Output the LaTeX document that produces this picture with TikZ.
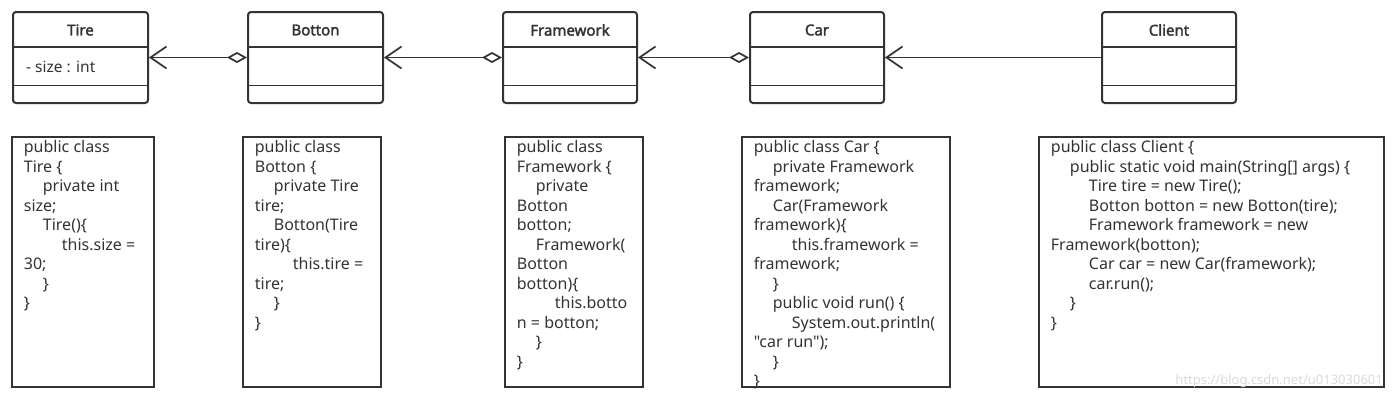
\documentclass[tikz,border=0pt]{standalone}
\usepackage{fontspec}
\setmainfont{Noto Sans}
\newfontfamily\codefont{Noto Sans}
\newfontfamily\titlefont{Noto Sans}[FakeBold=2.2]
\usetikzlibrary{arrows.meta}
\definecolor{linegray}{HTML}{333333}
\definecolor{textgray}{HTML}{333333}
\definecolor{markgray}{HTML}{DADADA}
\newcommand{\tb}{\hspace*{19pt}}

\begin{document}
\begin{tikzpicture}[
    x=1pt, y=-1pt,
    classbox/.style={draw=linegray, line width=2pt, rounded corners=3pt, minimum width=135pt, minimum height=91pt, inner sep=0pt},
    classname/.style={font=\titlefont\fontsize{15}{18}\selectfont, text=linegray},
    attr/.style={font=\fontsize{15.5}{18}\selectfont, text=textgray, anchor=west, inner sep=0pt},
    divider/.style={draw=linegray, line width=1.9pt},
    codebox/.style={draw=linegray, line width=2.6pt, minimum height=250pt, inner sep=0pt},
    code/.style={font=\codefont\fontsize{16}{19.5}\selectfont, text=textgray, align=left, anchor=north west, inner sep=0pt},
    aggr/.style={draw=linegray, line width=1.7pt, {Diamond[open, length=20pt, width=11pt]}-{Straight Barb[length=16pt, width=22pt]}},
    dep/.style={draw=linegray, line width=1.7pt, -{Straight Barb[length=16pt, width=22pt]}}
]
    \useasboundingbox (0,0) rectangle (1400,400);

    % class boxes
    \node [classbox] (tire) at (80.5,57.5) {};
    \node [classbox] (botton) at (315.5,57.5) {};
    \node [classbox, minimum width=134pt] (framework) at (570,57.5) {};
    \node [classbox, minimum width=134pt] (car) at (817,57.5) {};
    \node [classbox, minimum width=134pt] (client) at (1169,57.5) {};
    \foreach \n in {tire,botton,framework,car,client} {
        \draw [divider] ([yshift=-36pt]\n.north west) -- ([yshift=-36pt]\n.north east);
        \draw [divider] ([yshift=18.5pt]\n.south west) -- ([yshift=18.5pt]\n.south east);
    }
    \node [classname] (tirename) at ([yshift=-19pt]tire.north) {Tire};
    \node [classname] (bottonname) at ([yshift=-19pt]botton.north) {Botton};
    \node [classname] (frameworkname) at ([yshift=-19pt]framework.north) {Framework};
    \node [classname] (carname) at ([yshift=-19pt]car.north) {Car};
    \node [classname] (clientname) at ([yshift=-19pt]client.north) {Client};
    \node [attr] (tireattr) at ([xshift=14pt, yshift=-55.5pt]tire.north west) {- size : int};

    % relations
    \draw [aggr] (botton.west) -- (tire.east);
    \draw [aggr] (framework.west) -- (botton.east);
    \draw [aggr] (car.west) -- (framework.east);
    \draw [dep] (client.west) -- (car.east);

    % code boxes
    \node [codebox, minimum width=142pt] (tirecode) at (83,262) {};
    \node [codebox, minimum width=138pt] (bottoncode) at (312,262) {};
    \node [codebox, minimum width=138pt] (frameworkcode) at (574,262) {};
    \node [codebox, minimum width=208pt] (carcode) at (846,262) {};
    \node [codebox, minimum width=345pt] (clientcode) at (1211.5,262) {};

    \node [code] (tiretext) at ([xshift=13pt, yshift=-4.6pt]tirecode.north west) {public class\\Tire \{\\\tb private int\\size;\\\tb Tire()\{\\\tb\tb this.size =\\30;\\\tb \}\\\}};
    \node [code] (bottontext) at ([xshift=13pt, yshift=-4.6pt]bottoncode.north west) {public class\\Botton \{\\\tb private Tire\\tire;\\\tb Botton(Tire\\tire)\{\\\tb\tb this.tire =\\tire;\\\tb \}\\\}};
    \node [code] (frameworktext) at ([xshift=13pt, yshift=-4.6pt]frameworkcode.north west) {public class\\Framework \{\\\tb private\\Botton\\botton;\\\tb Framework(\\Botton\\botton)\{\\\tb\tb this.botto\\n = botton;\\\tb \}\\\}};
    \node [code] (cartext) at ([xshift=13pt, yshift=-4.6pt]carcode.north west) {public class Car \{\\\tb private Framework\\framework;\\\tb Car(Framework\\framework)\{\\\tb\tb this.framework =\\framework;\\\tb \}\\\tb public void run() \{\\\tb\tb System.out.println(\\"car run");\\\tb \}\\\}};
    \node [code] (clienttext) at ([xshift=13pt, yshift=-4.6pt]clientcode.north west) {public class Client \{\\\tb public static void main(String[] args) \{\\\tb\tb Tire tire = new Tire();\\\tb\tb Botton botton = new Botton(tire);\\\tb\tb Framework framework = new\\Framework(botton);\\\tb\tb Car car = new Car(framework);\\\tb\tb car.run();\\\tb \}\\\}};

    \node [font=\fontsize{13}{15}\selectfont, text=markgray, anchor=east, inner sep=0pt] (mark) at (1383,381) {https://blog.csdn.net/u013030601};
\end{tikzpicture}
\end{document}
